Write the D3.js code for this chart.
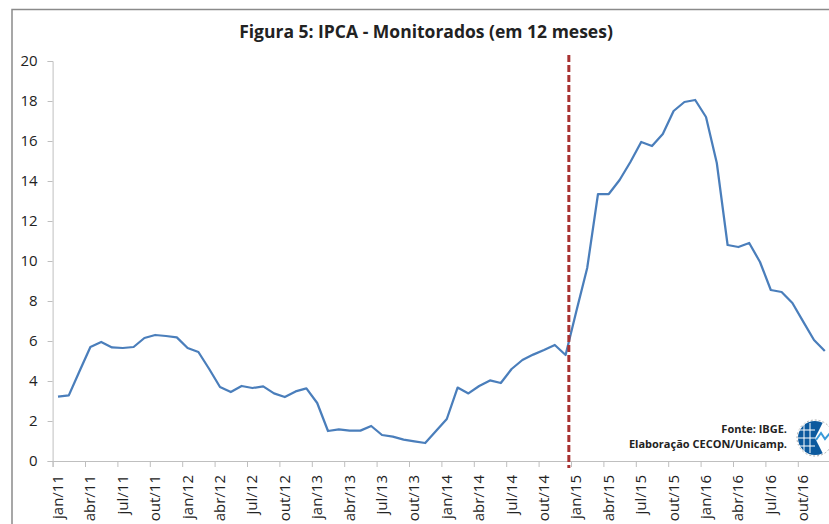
<!DOCTYPE html>
<html>
<head>
<meta charset="utf-8">
<script src="https://cdn.jsdelivr.net/npm/d3@7"></script>
<style>
  body { margin: 0; background: #fff; overflow: hidden; }
  text { font-family: "Open Sans", sans-serif; fill: #222; }
</style>
</head>
<body>
<div id="chart"></div>
<script>
// Categories: monthly, jan/11 .. dez/16
const monthAbbr = ['jan', 'fev', 'mar', 'abr', 'mai', 'jun', 'jul', 'ago', 'set', 'out', 'nov', 'dez'];
const years = ['11', '12', '13', '14', '15', '16'];
const months = years.flatMap(y => monthAbbr.map(m => `${m}/${y}`));

// IPCA monitorados, acumulado em 12 meses (%)
const values = [
    3.22, 3.28, 4.5, 5.7, 5.95, 5.68, 5.65, 5.7, 6.15, 6.3, 6.25, 6.18,
    5.65, 5.45, 4.6, 3.7, 3.45, 3.75, 3.65, 3.73, 3.38, 3.2, 3.48, 3.63,
    2.9, 1.5, 1.58, 1.52, 1.52, 1.75, 1.3, 1.22, 1.07, 0.98, 0.9, 1.5,
    2.1, 3.67, 3.38, 3.75, 4.03, 3.9, 4.6, 5.05, 5.32, 5.55, 5.8, 5.3,
    7.5, 9.65, 13.35, 13.35, 14.05, 14.95, 15.95, 15.75, 16.35, 17.5, 17.95, 18.05,
    17.2, 14.9, 10.8, 10.7, 10.9, 9.95, 8.55, 8.45, 7.9, 6.97, 6.05, 5.5
];

const yTicks = [0, 2, 4, 6, 8, 10, 12, 14, 16, 18, 20];
const tickLabels = months.filter((d, i) => i % 3 === 0);
const markerMonth = 47.8; // vertical marker, just after dez/14

const width = 829, height = 524;
const margin = { left: 52.6, top: 61, bottom: 461 };

const svg = d3.select('#chart')
    .append('svg')
    .attr('width', width)
    .attr('height', height);

// outer frame
svg.append('rect')
    .attr('x', 12).attr('y', 9.5)
    .attr('width', 900).attr('height', 600)
    .attr('fill', 'none')
    .attr('stroke', '#8a8a8a')
    .attr('stroke-width', 1.5);

const x = d3.scaleLinear()
    .domain([0, months.length])
    .range([margin.left, margin.left + months.length * 10.8]);

const y = d3.scaleLinear()
    .domain([0, 20])
    .range([margin.bottom, margin.top]);

// y axis
const yAxis = svg.append('g')
    .attr('transform', `translate(${margin.left},0)`)
    .call(d3.axisLeft(y).tickValues(yTicks).tickSize(5).tickPadding(10));
yAxis.selectAll('line, path').attr('stroke', '#bfbfbf');
yAxis.selectAll('text')
    .style('font-size', '15px')
    .attr('fill', '#222');

// x axis: ticks between categories every 3 months
const xAxis = svg.append('g')
    .attr('transform', `translate(0,${margin.bottom})`)
    .call(d3.axisBottom(x)
        .tickValues(d3.range(0, months.length + 1, 3))
        .tickSize(6)
        .tickFormat(''));
xAxis.selectAll('line, path').attr('stroke', '#bfbfbf');

svg.append('g')
    .selectAll('text')
    .data(tickLabels)
    .enter()
    .append('text')
    .attr('transform', (d, i) => `translate(${x(i * 3 + 0.5) + 5},${margin.bottom + 14}) rotate(-90)`)
    .style('text-anchor', 'end')
    .style('font-size', '15px')
    .text(d => d);

// data line
const line = d3.line()
    .x((d, i) => x(i + 0.5))
    .y(d => y(d));

svg.append('path')
    .datum(values)
    .attr('d', line)
    .attr('fill', 'none')
    .attr('stroke', '#4a7ebb')
    .attr('stroke-width', 2.25)
    .attr('stroke-linejoin', 'round');

// dashed marker
svg.append('line')
    .attr('x1', x(markerMonth)).attr('x2', x(markerMonth))
    .attr('y1', 55).attr('y2', 468)
    .attr('stroke', '#a83232')
    .attr('stroke-width', 3)
    .attr('stroke-dasharray', '7,3');

// title
svg.append('text')
    .attr('x', 426).attr('y', 38)
    .style('text-anchor', 'middle')
    .style('font-size', '17.5px')
    .style('font-weight', 'bold')
    .text('Figura 5: IPCA - Monitorados (em 12 meses)');

// source note
svg.append('text')
    .attr('x', 787).attr('y', 433)
    .style('text-anchor', 'end')
    .style('font-size', '11px')
    .style('font-weight', 'bold')
    .text('Fonte: IBGE.');
svg.append('text')
    .attr('x', 787).attr('y', 448)
    .style('text-anchor', 'end')
    .style('font-size', '11px')
    .style('font-weight', 'bold')
    .text('Elaboração CECON/Unicamp.');

// small logo (globe)
const logo = svg.append('g').attr('transform', 'translate(815,438)');
logo.append('circle').attr('r', 18).attr('fill', 'none')
    .attr('stroke', '#aaa').attr('stroke-dasharray', '2,2');
logo.append('path')
    .attr('d', d3.arc()({ innerRadius: 0, outerRadius: 17, startAngle: Math.PI, endAngle: 2 * Math.PI }))
    .attr('fill', '#0d5a9e');
logo.append('path')
    .attr('d', d3.arc()({ innerRadius: 0, outerRadius: 17, startAngle: 0.85 * Math.PI, endAngle: Math.PI }))
    .attr('fill', '#0d5a9e');
logo.append('path')
    .attr('d', d3.arc()({ innerRadius: 0, outerRadius: 17, startAngle: 0, endAngle: 0.15 * Math.PI }))
    .attr('fill', '#0d5a9e');
[-11, -5].forEach(dx => logo.append('line')
    .attr('x1', dx).attr('x2', dx).attr('y1', -15).attr('y2', 15)
    .attr('stroke', '#fff').attr('stroke-width', 1));
[-8, 0, 8].forEach(dy => logo.append('line')
    .attr('x1', -17).attr('x2', 0).attr('y1', dy).attr('y2', dy)
    .attr('stroke', '#fff').attr('stroke-width', 1));
logo.append('polyline')
    .attr('points', '1,2 6,-5 10,1 16,-6')
    .attr('fill', 'none')
    .attr('stroke', '#3a9ad9')
    .attr('stroke-width', 2);
</script>
</body>
</html>
